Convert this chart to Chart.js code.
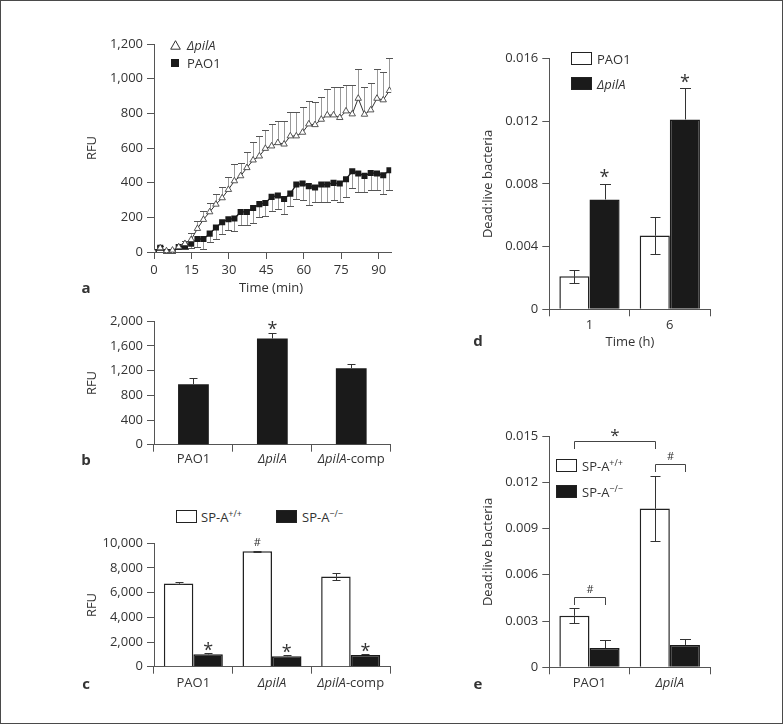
<!DOCTYPE html>
<html><head><meta charset="utf-8">
<script src="https://cdn.jsdelivr.net/npm/chart.js@4.4.1/dist/chart.umd.min.js"></script>
<style>
html,body{margin:0;padding:0;background:#fff;}
#fig{position:relative;width:783px;height:724px;overflow:hidden;font-family:'Open Sans',sans-serif;color:#333;}
#frame{position:absolute;left:0;top:0;width:783px;height:724px;box-sizing:border-box;border:1px solid #4a4a4a;pointer-events:none;}
canvas{position:absolute;}
.t{position:absolute;font-size:13px;white-space:nowrap;line-height:1;}
.c{transform:translate(-50%,-50%);}
.l{transform:translateY(-50%);}
.rot{transform:translate(-50%,-50%) rotate(-90deg);}
.lt{font-weight:bold;font-size:15px;}
.box{position:absolute;box-sizing:border-box;border:1.5px solid #222;background:#fff;}
.box.k{background:#1a1a1a;}
sup{font-size:9px;vertical-align:baseline;position:relative;top:-5px;}
i{font-style:italic;}
</style></head><body>
<div id="fig">
<canvas id="cA" width="400" height="300" style="left:0;top:0"></canvas>
<canvas id="cB" width="400" height="175" style="left:0;top:300px"></canvas>
<canvas id="cC" width="400" height="194" style="left:0;top:530px"></canvas>
<canvas id="cD" width="383" height="360" style="left:400px;top:0"></canvas>
<canvas id="cE" width="383" height="324" style="left:400px;top:400px"></canvas>

<!-- panel a texts -->
<div class="t rot" style="left:91px;top:148px">RFU</div>
<div class="t c" style="left:271px;top:287px">Time (min)</div>
<div class="t lt c" style="left:86px;top:287px">a</div>
<svg style="position:absolute;left:170px;top:40px" width="11" height="10"><polygon points="5.5,0.7 10.3,9.2 0.7,9.2" fill="#fff" stroke="#333" stroke-width="1"/></svg>
<div class="t l" style="left:187px;top:45px"><i>ΔpilA</i></div>
<div style="position:absolute;left:171px;top:59px;width:8px;height:8px;background:#1a1a1a"></div>
<div class="t l" style="left:187px;top:63px">PAO1</div>

<!-- panel b texts -->
<div class="t rot" style="left:91px;top:383px">RFU</div>
<div class="t lt c" style="left:86px;top:459px">b</div>

<!-- panel c texts -->
<div class="box" style="left:176px;top:510px;width:21px;height:13px"></div>
<div class="t l" style="left:201px;top:517px">SP-A<sup>+/+</sup></div>
<div class="box k" style="left:276px;top:510px;width:21px;height:13px"></div>
<div class="t l" style="left:302px;top:517px">SP-A<sup>−/−</sup></div>
<div class="t rot" style="left:91px;top:605px">RFU</div>
<div class="t lt c" style="left:86px;top:683px">c</div>

<!-- panel d texts -->
<div class="box" style="left:571px;top:52px;width:21px;height:13px"></div>
<div class="t l" style="left:597px;top:59px">PAO1</div>
<div class="box k" style="left:571px;top:77px;width:21px;height:13px"></div>
<div class="t l" style="left:597px;top:84px"><i>ΔpilA</i></div>
<div class="t rot" style="left:487px;top:184px">Dead:live bacteria</div>
<div class="t c" style="left:630px;top:341px">Time (h)</div>
<div class="t lt c" style="left:478px;top:340px">d</div>

<!-- panel e texts -->
<div class="box" style="left:556px;top:459px;width:21px;height:13px"></div>
<div class="t l" style="left:582px;top:466px">SP-A<sup>+/+</sup></div>
<div class="box k" style="left:556px;top:485px;width:21px;height:13px"></div>
<div class="t l" style="left:582px;top:492px">SP-A<sup>−/−</sup></div>
<div class="t rot" style="left:487px;top:552px">Dead:live bacteria</div>
<div class="t lt c" style="left:478px;top:683px">e</div>

<div id="frame"></div>
</div>
<script>
// ---------- DATA ----------
// Panel a: fluorescence over time
const timeMin = [0,2.5,5.0,7.4,9.9,12.4,14.9,17.4,19.8,22.3,24.8,27.3,29.8,32.2,34.7,37.2,39.7,42.2,44.6,47.1,49.6,52.1,54.6,57.0,59.5,62.0,64.5,67.0,69.4,71.9,74.4,76.9,79.4,81.8,84.3,86.8,89.3,91.8,94.3];
const pilA_a = [0,23,6,10,29,48,71,135,187,231,275,312,360,410,439,486,530,553,597,611,630,622,669,669,690,738,734,765,790,790,775,813,796,886,794,819,886,877,931];
const pilA_aErr = [0,10,10,10,12,15,39,44,50,50,58,64,73,95,72,92,105,115,104,126,127,135,136,136,148,134,133,130,148,163,178,150,167,168,156,154,168,163,190];
const pao1_a = [0,25,0,0,29,33,48,75,75,106,141,172,189,193,231,231,254,276,283,318,326,306,337,389,395,380,372,389,389,399,395,420,466,453,439,456,453,443,472];
const pao1_aErr = [0,8,8,8,12,15,25,46,55,48,64,66,60,72,73,73,86,74,77,83,77,84,73,86,96,110,83,100,100,100,106,102,96,106,92,100,97,106,116];
const yTicksA = [0,200,400,600,800,1000,1200];
const yLabelsA = ['0','200','400','600','800','1,000','1,200'];
const xTicksA = [0,15,30,45,60,75,90];
const xLabelsA = ['0','15','30','45','60','75','90'];

// Panel b
const catsB = ['PAO1','ΔpilA','ΔpilA-comp'];
const rfuB = [980,1720,1240];
const rfuBErr = [100,85,60];
const sigB = ['','*',''];
const yTicksB = [0,400,800,1200,1600,2000];
const yLabelsB = ['0','400','800','1,200','1,600','2,000'];

// Panel c
const catsC = ['PAO1','ΔpilA','ΔpilA-comp'];
const wtC = [6750,9350,7300];
const wtCErr = [80,50,280];
const koC = [1000,850,950];
const koCErr = [80,60,60];
const sigWtC = ['','#',''];
const sigKoC = ['*','*','*'];
const yTicksC = [0,2000,4000,6000,8000,10000];
const yLabelsC = ['0','2,000','4,000','6,000','8,000','10,000'];

// Panel d
const catsD = ['1','6'];
const pao1D = [0.0021,0.0047];
const pao1DErr = [0.0004,0.0012];
const pilAD = [0.0070,0.0121];
const pilADErr = [0.0010,0.0020];
const sigD = ['*','*'];
const yTicksD = [0,0.004,0.008,0.012,0.016];
const yLabelsD = ['0','0.004','0.008','0.012','0.016'];

// Panel e
const catsE = ['PAO1','ΔpilA'];
const wtE = [0.00335,0.0103];
const wtEErr = [0.00048,0.0021];
const koE = [0.00125,0.00145];
const koEErr = [0.0005,0.00038];
const yTicksE = [0,0.003,0.006,0.009,0.012,0.015];
const yLabelsE = ['0','0.003','0.006','0.009','0.012','0.015'];
// brackets: [fromCat, fromDs, toCat, toDs], level (data units), label
const bracketEnds = [[0,0,1,0],[1,0,1,1],[0,0,0,1]];
const bracketLevel = [0.01469,0.01318,0.00458];
const bracketLabel = ['*','#','#'];

// ---------- HELPERS ----------
const FONT = "'Open Sans', sans-serif";
const AX = '#555';
const TXT = '#333';
Chart.defaults.font.family = FONT;
Chart.defaults.font.size = 13;
Chart.defaults.color = TXT;

function yAxis(min,max,ticks,labels,width){
  return {min:min,max:max,
    afterFit:s=>{s.width=width;},
    afterBuildTicks:s=>{s.ticks=ticks.map(v=>({value:v}));},
    ticks:{callback:(v,i)=>labels[i],padding:4,color:TXT,font:{size:13}},
    grid:{drawOnChartArea:false,drawTicks:true,tickLength:7,color:AX,lineWidth:1},
    border:{color:AX,width:1}};
}
function catAxis(height){
  return {type:'category',offset:true,
    afterFit:s=>{s.height=height;},
    ticks:{display:false},
    grid:{offset:true,drawOnChartArea:false,drawTicks:true,tickLength:7,color:AX,lineWidth:1},
    border:{color:AX,width:1}};
}
function runsFor(label){
  const k = label.indexOf('ΔpilA');
  if(k<0) return [[label,false]];
  const r=[];
  if(k>0) r.push([label.slice(0,k),false]);
  r.push(['ΔpilA',true]);
  if(k+5<label.length) r.push([label.slice(k+5),false]);
  return r;
}
function catLabelPlugin(dy){
  return {id:'catlabels',afterDraw(chart){
    const ctx=chart.ctx, xs=chart.scales.x;
    ctx.save(); ctx.fillStyle=TXT; ctx.textBaseline='middle'; ctx.textAlign='left';
    chart.data.labels.forEach((lab,i)=>{
      const runs=runsFor(lab);
      let w=0;
      runs.forEach(r=>{ctx.font=(r[1]?'italic ':'')+'13px '+FONT; w+=ctx.measureText(r[0]).width;});
      let x=xs.getPixelForValue(i)-w/2;
      const y=chart.chartArea.bottom+dy;
      runs.forEach(r=>{ctx.font=(r[1]?'italic ':'')+'13px '+FONT; ctx.fillText(r[0],x,y); x+=ctx.measureText(r[0]).width;});
    });
    ctx.restore();
  }};
}
function glyph(ctx,t,x,cy,size){
  ctx.font=size+'px '+FONT;
  ctx.textAlign='center'; ctx.textBaseline='alphabetic';
  const m=ctx.measureText(t);
  ctx.fillText(t,x,cy+(m.actualBoundingBoxAscent-m.actualBoundingBoxDescent)/2);
}
function errPlugin(specs,before){
  const draw=(chart)=>{
    const ctx=chart.ctx, ys=chart.scales.y;
    ctx.save(); ctx.lineWidth=1;
    specs.forEach(s=>{
      const meta=chart.getDatasetMeta(s.ds);
      const data=chart.data.datasets[s.ds].data;
      meta.data.forEach((el,i)=>{
        const e=s.err[i]; if(!e) return;
        const v=(typeof data[i]==='object')?data[i].y:data[i];
        const x=Math.round(el.x)+0.5;
        const y0=ys.getPixelForValue(v);
        const ends=[];
        if(s.up) ends.push(ys.getPixelForValue(v+e));
        if(s.down) ends.push(ys.getPixelForValue(v-e));
        ends.forEach(ye=>{
          const yr=Math.round(ye)+0.5;
          ctx.strokeStyle=s.stem; ctx.beginPath(); ctx.moveTo(x,y0); ctx.lineTo(x,yr); ctx.stroke();
          ctx.strokeStyle=s.capColor; ctx.beginPath(); ctx.moveTo(x-s.cap/2,yr); ctx.lineTo(x+s.cap/2,yr); ctx.stroke();
        });
      });
    });
    ctx.restore();
  };
  return before?{id:'err',beforeDatasetsDraw:draw}:{id:'err',afterDatasetsDraw:draw};
}
function sigPlugin(specs){
  return {id:'sig',afterDraw(chart){
    const ctx=chart.ctx, ys=chart.scales.y;
    ctx.save(); ctx.fillStyle=TXT;
    specs.forEach(s=>{
      const meta=chart.getDatasetMeta(s.ds);
      const data=chart.data.datasets[s.ds].data;
      meta.data.forEach((el,i)=>{
        const m=s.marks[i]; if(!m) return;
        const top=ys.getPixelForValue(data[i]+(s.err?s.err[i]:0));
        glyph(ctx,m,el.x,top-s.gap,s.size);
      });
    });
    ctx.restore();
  }};
}
const base = {responsive:false,animation:false,devicePixelRatio:1,
  plugins:{legend:{display:false},tooltip:{enabled:false}}};

// ---------- PANEL A ----------
new Chart(document.getElementById('cA'),{
  type:'line',
  data:{datasets:[
    {data:timeMin.map((t,i)=>({x:t,y:pilA_a[i]})),borderColor:'#333',borderWidth:1,
     pointStyle:'triangle',pointRadius:3.7,pointBackgroundColor:'#fff',pointBorderColor:'#444',pointBorderWidth:0.9,tension:0},
    {data:timeMin.map((t,i)=>({x:t,y:pao1_a[i]})),borderColor:'#1a1a1a',borderWidth:1.3,
     pointStyle:'rect',pointRadius:4.3,pointBackgroundColor:'#1a1a1a',pointBorderColor:'#1a1a1a',pointBorderWidth:0,tension:0}
  ]},
  options:Object.assign({},base,{
    layout:{padding:{left:0,top:44,right:8.8,bottom:0}},
    scales:{
      x:{type:'linear',min:0,max:95,
        afterFit:s=>{s.height=48;},
        afterBuildTicks:s=>{s.ticks=xTicksA.map(v=>({value:v}));},
        ticks:{callback:(v,i)=>xLabelsA[i],padding:3,color:TXT,font:{size:13},maxRotation:0},
        grid:{drawOnChartArea:false,drawTicks:true,tickLength:7,color:AX},
        border:{color:AX,width:1}},
      y:yAxis(0,1200,yTicksA,yLabelsA,154)
    }
  }),
  plugins:[errPlugin([
    {ds:0,err:pilA_aErr,up:true,down:false,cap:7,stem:'#999',capColor:'#555'},
    {ds:1,err:pao1_aErr,up:false,down:true,cap:7,stem:'#999',capColor:'#555'}
  ],true)]
});

// ---------- PANEL B ----------
new Chart(document.getElementById('cB'),{
  type:'bar',
  data:{labels:catsB,datasets:[{data:rfuB,backgroundColor:'#1a1a1a',borderColor:'#1a1a1a',borderWidth:0,
    categoryPercentage:1,barPercentage:0.39}]},
  options:Object.assign({},base,{
    layout:{padding:{left:0,top:21.2,right:9.3,bottom:0}},
    scales:{x:catAxis(30.3),y:yAxis(0,2000,yTicksB,yLabelsB,154)}
  }),
  plugins:[errPlugin([{ds:0,err:rfuBErr,up:true,down:false,cap:8,stem:'#333',capColor:'#333'}]),
           sigPlugin([{ds:0,err:rfuBErr,marks:sigB,size:18,gap:8}]),
           catLabelPlugin(15)]
});

// ---------- PANEL C ----------
new Chart(document.getElementById('cC'),{
  type:'bar',
  data:{labels:catsC,datasets:[
    {data:wtC,backgroundColor:'#fff',borderColor:'#222',borderWidth:1.5,categoryPercentage:0.75,barPercentage:1},
    {data:koC,backgroundColor:'#1a1a1a',borderColor:'#1a1a1a',borderWidth:1.5,categoryPercentage:0.75,barPercentage:1}]},
  options:Object.assign({},base,{
    layout:{padding:{left:0,top:13.3,right:10,bottom:0}},
    scales:{x:catAxis(57.3),y:yAxis(0,10000,yTicksC,yLabelsC,154)}
  }),
  plugins:[errPlugin([
      {ds:0,err:wtCErr,up:true,down:true,cap:8,stem:'#333',capColor:'#333'},
      {ds:1,err:koCErr,up:true,down:false,cap:8,stem:'#333',capColor:'#333'}]),
    sigPlugin([{ds:0,err:wtCErr,marks:sigWtC,size:11,gap:8.5},{ds:1,err:koCErr,marks:sigKoC,size:18,gap:7}]),
    catLabelPlugin(16.6)]
});

// ---------- PANEL D ----------
new Chart(document.getElementById('cD'),{
  type:'bar',
  data:{labels:catsD,datasets:[
    {data:pao1D,backgroundColor:'#fff',borderColor:'#222',borderWidth:1.5,categoryPercentage:0.75,barPercentage:1},
    {data:pilAD,backgroundColor:'#1a1a1a',borderColor:'#1a1a1a',borderWidth:1.5,categoryPercentage:0.75,barPercentage:1}]},
  options:Object.assign({},base,{
    layout:{padding:{left:0,top:58.3,right:73,bottom:0}},
    scales:{x:catAxis(50.7),y:yAxis(0,0.016,yTicksD,yLabelsD,149.3)}
  }),
  plugins:[errPlugin([
      {ds:0,err:pao1DErr,up:true,down:true,cap:10,stem:'#333',capColor:'#333'},
      {ds:1,err:pilADErr,up:true,down:false,cap:11,stem:'#333',capColor:'#333'}]),
    sigPlugin([{ds:1,err:pilADErr,marks:sigD,size:18,gap:10}]),
    catLabelPlugin(16)]
});

// ---------- PANEL E ----------
new Chart(document.getElementById('cE'),{
  type:'bar',
  data:{labels:catsE,datasets:[
    {data:wtE,backgroundColor:'#fff',borderColor:'#222',borderWidth:1.5,categoryPercentage:0.75,barPercentage:1},
    {data:koE,backgroundColor:'#1a1a1a',borderColor:'#1a1a1a',borderWidth:1.5,categoryPercentage:0.75,barPercentage:1}]},
  options:Object.assign({},base,{
    layout:{padding:{left:0,top:36,right:73,bottom:0}},
    scales:{x:catAxis(56.7),y:yAxis(0,0.015,yTicksE,yLabelsE,149.3)}
  }),
  plugins:[errPlugin([
      {ds:0,err:wtEErr,up:true,down:true,cap:10,stem:'#333',capColor:'#333'},
      {ds:1,err:koEErr,up:true,down:false,cap:11,stem:'#333',capColor:'#333'}]),
    catLabelPlugin(16),
    {id:'brackets',afterDraw(chart){
      const ctx=chart.ctx, ys=chart.scales.y;
      ctx.save(); ctx.strokeStyle='#444'; ctx.lineWidth=1; ctx.fillStyle=TXT;
      bracketEnds.forEach((b,k)=>{
        const x1=Math.round(chart.getDatasetMeta(b[1]).data[b[0]].x)+0.5;
        const x2=Math.round(chart.getDatasetMeta(b[3]).data[b[2]].x)+0.5;
        const y=Math.round(ys.getPixelForValue(bracketLevel[k]))+0.5;
        ctx.beginPath(); ctx.moveTo(x1,y+7.5); ctx.lineTo(x1,y); ctx.lineTo(x2,y); ctx.lineTo(x2,y+7.5); ctx.stroke();
        glyph(ctx,bracketLabel[k],(x1+x2)/2,y-8.5,bracketLabel[k]==='*'?17:11);
      });
      ctx.restore();
    }}]
});
</script>
</body></html>
